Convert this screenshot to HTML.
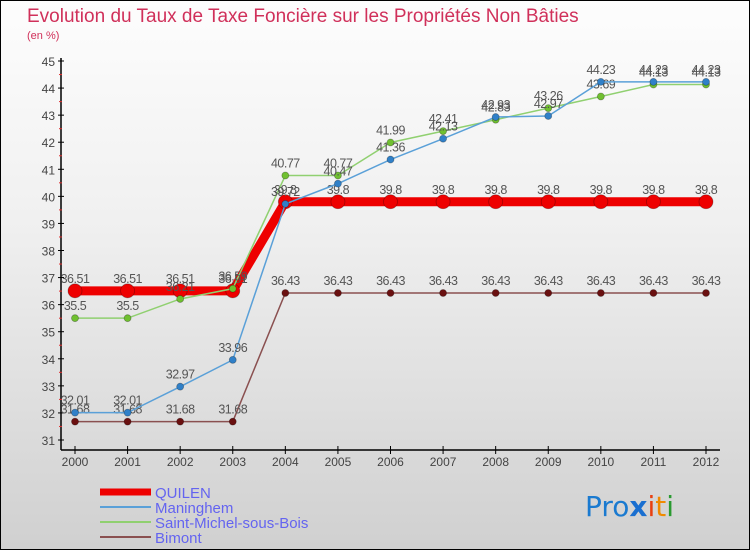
<!DOCTYPE html>
<html><head><meta charset="utf-8"><style>
body{margin:0;width:750px;height:550px;overflow:hidden;font-family:"Liberation Sans",sans-serif}
#wrap{position:absolute;left:0;top:0;width:748px;height:548px;border:1px solid #000;background:linear-gradient(#fdfdfd,#f0f0f0 40%,#d0d0d0)}
</style></head><body>
<div id="wrap">
<svg id="svg" width="750" height="550" style="position:absolute;left:-1px;top:-1px">
<text x="27" y="22" font-size="19" fill="#d0305a">Evolution du Taux de Taxe Foncière sur les Propriétés Non Bâties</text>
<text x="27" y="39" font-size="11" fill="#d0305a">(en %)</text>
<g id="axes"></g><g id="series"></g><g id="legend"></g>
<text x="585" y="516" font-size="28" font-family="'DejaVu Sans',sans-serif"><tspan fill="#1a7ad0">Pro</tspan><tspan fill="#1a6fd0" font-weight="bold">x</tspan><tspan fill="#e84010">i</tspan><tspan fill="#f08a00">t</tspan><tspan fill="#2a9a30">i</tspan></text>
</svg></div>
<script>
const years=[2000,2001,2002,2003,2004,2005,2006,2007,2008,2009,2010,2011,2012];
const quilen=[36.51,36.51,36.51,36.51,39.8,39.8,39.8,39.8,39.8,39.8,39.8,39.8,39.8];
const maninghem=[32.01,32.01,32.97,33.96,39.72,40.47,41.36,42.13,42.93,42.97,44.23,44.23,44.23];
const stmichel=[35.5,35.5,36.21,36.59,40.77,40.77,41.99,42.41,42.83,43.26,43.69,44.13,44.13];
const bimont=[31.68,31.68,31.68,31.68,36.43,36.43,36.43,36.43,36.43,36.43,36.43,36.43,36.43];
const yTicks=[31,32,33,34,35,36,37,38,39,40,41,42,43,44,45];
const NS="http://www.w3.org/2000/svg";
const X=i=>75+i*(631/12);
const Y=v=>440-(v-31)*(379/14);
function mk(t,a,p){const e=document.createElementNS(NS,t);for(const k in a)e.setAttribute(k,a[k]);p.appendChild(e);return e;}
const ax=document.getElementById('axes');
let e=mk('line',{x1:61,y1:58,x2:61,y2:450,stroke:'#000','stroke-width':1.5},ax);

e=mk('line',{x1:61,y1:450,x2:720,y2:450,stroke:'#000','stroke-width':1.5},ax);

yTicks.forEach(v=>{
 mk('line',{x1:58,y1:Y(v),x2:64,y2:Y(v),stroke:'#000'},ax);
 if(v<45)mk('line',{x1:59,y1:Y(v+0.5),x2:62,y2:Y(v+0.5),stroke:'#e03030'},ax);
 const t=mk('text',{x:55,y:Y(v)+5,'font-size':12,'text-anchor':'end',fill:'#444'},ax);t.textContent=v;
 
});
years.forEach((y,i)=>{
 mk('line',{x1:X(i),y1:446,x2:X(i),y2:454,stroke:'#000'},ax);
 const t=mk('text',{x:X(i),y:466,'font-size':12,'text-anchor':'middle',fill:'#444'},ax);t.textContent=y;
 
});
const sg=document.getElementById('series');
const defs=[
 {d:bimont,c:'#8a5050',f:'#6a1010',w:1.5,r:3.5,n:'bimont'},
 {d:stmichel,c:'#90d070',f:'#70c030',w:1.5,r:3.5,n:'saint-michel-sous-bois'},
 {d:maninghem,c:'#5aa0d8',f:'#3080c8',w:1.5,r:3.5,n:'maninghem'},
 {d:quilen,c:'#ee0000',f:'#ee0000',w:9,r:7,n:'quilen'}];
[defs[3],defs[0],defs[1],defs[2]].forEach(s=>{
 const l=mk('polyline',{points:s.d.map((v,i)=>X(i)+','+Y(v)).join(' '),fill:'none',stroke:s.c,'stroke-width':s.w},sg);
 
 s.d.forEach((v,i)=>{
  const c=mk('circle',{cx:X(i),cy:Y(v),r:s.r,fill:s.f,stroke:'rgba(0,0,0,0.3)','stroke-width':0.8},sg);
  
  const t=mk('text',{x:X(i),y:Y(v)-8,'font-size':12.5,'text-anchor':'middle',fill:'#555','letter-spacing':'-0.5'},sg);t.textContent=v;
  
 });
});
const lg=document.getElementById('legend');
[['QUILEN','#ee0000',7],['Maninghem','#5aa0d8',2],['Saint-Michel-sous-Bois','#90d070',2],['Bimont','#8a5050',2]].forEach((s,i)=>{
 const y=492+i*15;
 const l=mk('line',{x1:100,y1:y,x2:151,y2:y,stroke:s[1],'stroke-width':s[2]},lg);
 
 const t=mk('text',{x:155,y:y+6,'font-size':15,fill:'#6464f0'},lg);t.textContent=s[0];
 
});
</script></body></html>
